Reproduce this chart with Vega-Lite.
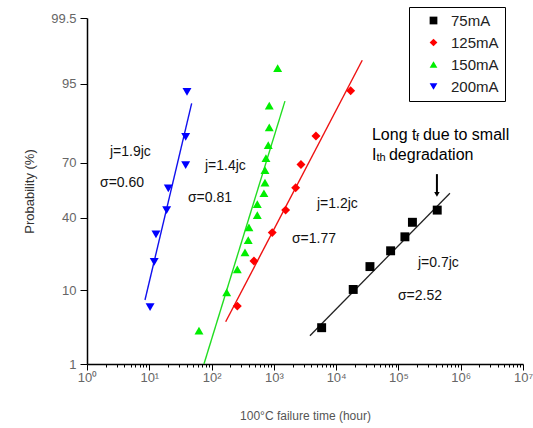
{
  "$schema": "https://vega.github.io/schema/vega-lite/v6.json",
  "width": 436,
  "height": 346,
  "autosize": {"type": "none"},
  "padding": {"left": 87, "top": 18, "right": 10, "bottom": 64},
  "config": {
    "view": {"stroke": null},
    "font": "Liberation Sans, Arial, sans-serif"
  },
  "datasets": {
    "points": [
      {"series": "200mA", "t": 40.3, "p": 93.7},
      {"series": "200mA", "t": 38.4, "p": 81.4},
      {"series": "200mA", "t": 38.4, "p": 68.9},
      {"series": "200mA", "t": 20.2, "p": 56.5},
      {"series": "200mA", "t": 19.0, "p": 44.2},
      {"series": "200mA", "t": 12.8, "p": 31.2},
      {"series": "200mA", "t": 12.0, "p": 19.0},
      {"series": "200mA", "t": 10.3, "p": 6.4},
      {"series": "150mA", "t": 1151, "p": 96.9},
      {"series": "150mA", "t": 844, "p": 90.9},
      {"series": "150mA", "t": 844, "p": 84.8},
      {"series": "150mA", "t": 813, "p": 78.1},
      {"series": "150mA", "t": 747, "p": 72.2},
      {"series": "150mA", "t": 720, "p": 66.3},
      {"series": "150mA", "t": 720, "p": 59.6},
      {"series": "150mA", "t": 693, "p": 53.7},
      {"series": "150mA", "t": 542, "p": 47.6},
      {"series": "150mA", "t": 542, "p": 41.4},
      {"series": "150mA", "t": 398, "p": 34.8},
      {"series": "150mA", "t": 388, "p": 28.4},
      {"series": "150mA", "t": 344, "p": 22.8},
      {"series": "150mA", "t": 259, "p": 16.2},
      {"series": "150mA", "t": 175, "p": 9.5},
      {"series": "150mA", "t": 62.8, "p": 3.2},
      {"series": "125mA", "t": 17100, "p": 93.9},
      {"series": "125mA", "t": 4740, "p": 81.7},
      {"series": "125mA", "t": 2723, "p": 69.2},
      {"series": "125mA", "t": 2239, "p": 56.8},
      {"series": "125mA", "t": 1546, "p": 44.2},
      {"series": "125mA", "t": 942, "p": 32.1},
      {"series": "125mA", "t": 479, "p": 19.3},
      {"series": "125mA", "t": 259, "p": 6.6},
      {"series": "75mA", "t": 419700, "p": 44.2},
      {"series": "75mA", "t": 167800, "p": 37.5},
      {"series": "75mA", "t": 127100, "p": 30.0},
      {"series": "75mA", "t": 74950, "p": 23.5},
      {"series": "75mA", "t": 34900, "p": 17.2},
      {"series": "75mA", "t": 18800, "p": 10.2},
      {"series": "75mA", "t": 5850, "p": 3.5}
    ],
    "fits": [
      {"series": "200mA", "t": 8.53, "p": 7.78},
      {"series": "200mA", "t": 47.9, "p": 91.4},
      {"series": "150mA", "t": 75.5, "p": 1.0},
      {"series": "150mA", "t": 1507, "p": 91.9},
      {"series": "125mA", "t": 168.4, "p": 4.2},
      {"series": "125mA", "t": 26240, "p": 97.6},
      {"series": "75mA", "t": 3795, "p": 2.71},
      {"series": "75mA", "t": 671000, "p": 53.7}
    ],
    "notes": [
      {"t": 2.34, "p": 75.1, "text": "j=1.9jc"},
      {"t": 1.617, "p": 59.4, "text": "σ=0.60"},
      {"t": 78.3, "p": 68.4, "text": "j=1.4jc"},
      {"t": 41.8, "p": 51.0, "text": "σ=0.81"},
      {"t": 4920, "p": 47.9, "text": "j=1.2jc"},
      {"t": 1952, "p": 28.9, "text": "σ=1.77"},
      {"t": 205600, "p": 18.7, "text": "j=0.7jc"},
      {"t": 98200, "p": 8.64, "text": "σ=2.52"}
    ],
    "bignotes": [
      {"t": 37560, "p": 82.06, "text": "Long t"},
      {"t": 247300, "p": 82.06, "text": "due to small"},
      {"t": 37560, "p": 73.7, "text": "I"},
      {"t": 70440, "p": 73.7, "text": "degradation"}
    ],
    "subnotes": [
      {"t": 190900, "p": 80.9, "text": "f"},
      {"t": 44360, "p": 72.3, "text": "th"}
    ],
    "arrow": [
      {"t": 415000, "p1": 64.2, "p2": 53.0}
    ]
  },
  "encoding": {
    "x": {
      "field": "t",
      "type": "quantitative",
      "scale": {"type": "log", "domain": [1, 10000000], "nice": false},
      "axis": {
        "values": [1,2,3,4,5,6,7,8,9,10,20,30,40,50,60,70,80,90,100,200,300,400,500,600,700,800,900,1000,2000,3000,4000,5000,6000,7000,8000,9000,10000,20000,30000,40000,50000,60000,70000,80000,90000,100000,200000,300000,400000,500000,600000,700000,800000,900000,1000000,2000000,3000000,4000000,5000000,6000000,7000000,8000000,9000000,10000000],
        "labelExpr": "abs(log(datum.value)/LN10 - round(log(datum.value)/LN10)) < 0.000001 ? '10' + ['⁰','¹','²','³','⁴','⁵','⁶','⁷'][round(log(datum.value)/LN10)] : ''",
        "tickSize": {"condition": {"test": "abs(log(datum.value)/LN10 - round(log(datum.value)/LN10)) < 0.000001", "value": 6}, "value": 3},
        "labelOverlap": false,
        "labelFlush": false,
        "grid": false,
        "title": "100°C failure time (hour)",
        "titleFontSize": 12,
        "titleFontWeight": "normal",
        "titleColor": "#555555",
        "titlePadding": 26,
        "labelColor": "#666666",
        "labelFontSize": 13,
        "labelPadding": 1,
        "domainColor": "#000000",
        "domainWidth": 1.5,
        "tickColor": "#000000",
        "tickWidth": 1
      }
    },
    "y": {
      "field": "z",
      "type": "quantitative",
      "scale": {"domain": [-2.3263479, 2.5758293], "nice": false, "zero": false},
      "axis": {
        "values": [-2.3263479, -1.2815516, -0.2533471, 0.5244005, 1.6448536, 2.5758293],
        "labelExpr": "datum.value < -2 ? '1' : datum.value < -1 ? '10' : datum.value < 0 ? '40' : datum.value < 1 ? '70' : datum.value < 2 ? '95' : '99.5'",
        "grid": false,
        "title": "Probability (%)",
        "titleFontSize": 13,
        "titleFontWeight": "normal",
        "titleColor": "#333333",
        "titlePadding": 14,
        "labelColor": "#666666",
        "labelFontSize": 13,
        "labelPadding": 4,
        "tickSize": 7,
        "domainColor": "#000000",
        "domainWidth": 1.5,
        "tickColor": "#000000",
        "tickWidth": 1
      }
    }
  },
  "layer": [
    {
      "data": {"name": "fits"},
      "transform": [{"filter": "datum.series == '75mA'"}, {"calculate": "quantileNormal(datum.p / 100)", "as": "z"}],
      "mark": {"type": "line", "strokeWidth": 1.3, "color": "#222222", "clip": true},
      "encoding": {}
    },
    {
      "data": {"name": "fits"},
      "transform": [{"filter": "datum.series == '125mA'"}, {"calculate": "quantileNormal(datum.p / 100)", "as": "z"}],
      "mark": {"type": "line", "strokeWidth": 1.4, "color": "#ee1111", "clip": true},
      "encoding": {}
    },
    {
      "data": {"name": "fits"},
      "transform": [{"filter": "datum.series == '150mA'"}, {"calculate": "quantileNormal(datum.p / 100)", "as": "z"}],
      "mark": {"type": "line", "strokeWidth": 1.4, "color": "#22dd22", "clip": true},
      "encoding": {}
    },
    {
      "data": {"name": "fits"},
      "transform": [{"filter": "datum.series == '200mA'"}, {"calculate": "quantileNormal(datum.p / 100)", "as": "z"}],
      "mark": {"type": "line", "strokeWidth": 1.4, "color": "#1111ee", "clip": true},
      "encoding": {}
    },
    {
      "data": {"name": "points"},
      "transform": [{"calculate": "quantileNormal(datum.p / 100)", "as": "z"}],
      "mark": {"type": "point", "filled": true, "opacity": 1, "size": 80},
      "encoding": {
        "color": {
          "field": "series",
          "type": "nominal",
          "scale": {"domain": ["75mA", "125mA", "150mA", "200mA"], "range": ["#000000", "#ff0000", "#00ee00", "#0000ff"]},
          "legend": {
            "title": null,
            "orient": "none",
            "legendX": 322,
            "legendY": -11,
            "strokeColor": "#000000",
            "fillColor": "#ffffff",
            "padding": 6,
            "symbolOffset": 11,
            "labelOffset": 10,
            "labelFontSize": 15,
            "labelColor": "#222222",
            "symbolSize": 60,
            "rowPadding": 6,
            "labelExpr": "datum.label + '       '"
          }
        },
        "shape": {
          "field": "series",
          "type": "nominal",
          "scale": {"domain": ["75mA", "125mA", "150mA", "200mA"], "range": ["square", "diamond", "triangle-up", "triangle-down"]}
        }
      }
    },
    {
      "data": {"name": "notes"},
      "transform": [{"calculate": "quantileNormal(datum.p / 100)", "as": "z"}],
      "mark": {"type": "text", "align": "left", "baseline": "middle", "fontSize": 14, "color": "#111111"},
      "encoding": {"text": {"field": "text"}}
    },
    {
      "data": {"name": "bignotes"},
      "transform": [{"calculate": "quantileNormal(datum.p / 100)", "as": "z"}],
      "mark": {"type": "text", "align": "left", "baseline": "middle", "fontSize": 16, "color": "#000000"},
      "encoding": {"text": {"field": "text"}}
    },
    {
      "data": {"name": "subnotes"},
      "transform": [{"calculate": "quantileNormal(datum.p / 100)", "as": "z"}],
      "mark": {"type": "text", "align": "left", "baseline": "middle", "fontSize": 11, "color": "#000000"},
      "encoding": {"text": {"field": "text"}}
    },
    {
      "data": {"name": "arrow"},
      "transform": [
        {"calculate": "quantileNormal(datum.p1 / 100)", "as": "z1"},
        {"calculate": "quantileNormal(datum.p2 / 100)", "as": "z2"}
      ],
      "mark": {"type": "rule", "strokeWidth": 2, "color": "#000000"},
      "encoding": {
        "y": {"field": "z1", "type": "quantitative"},
        "y2": {"field": "z2"}
      }
    },
    {
      "data": {"name": "arrow"},
      "transform": [{"calculate": "quantileNormal(datum.p2 / 100)", "as": "z"}],
      "mark": {"type": "point", "shape": "triangle-down", "filled": true, "opacity": 1, "size": 30, "color": "#000000"},
      "encoding": {}
    }
  ]
}
